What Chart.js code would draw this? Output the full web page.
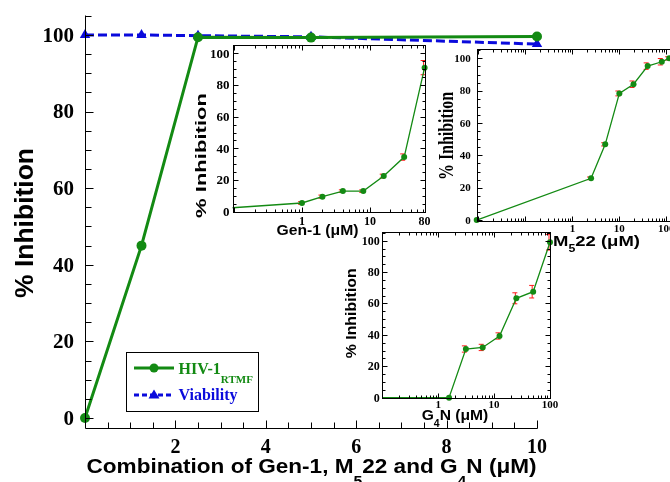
<!DOCTYPE html>
<html><head><meta charset="utf-8">
<script src="https://cdn.jsdelivr.net/npm/chart.js@4.4.1/dist/chart.umd.min.js"></script>
<style>
html,body{margin:0;padding:0;background:#fff;width:670px;height:482px;overflow:hidden;position:relative}
canvas{position:absolute;left:0;top:0}
</style></head><body>
<canvas id="main" width="670" height="482" style="width:670px;height:482px"></canvas>
<canvas id="gen1" width="700" height="482" style="width:700px;height:482px"></canvas>
<canvas id="m522" width="700" height="482" style="width:700px;height:482px"></canvas>
<canvas id="g4n" width="700" height="482" style="width:700px;height:482px"></canvas>
<script>
// ---------- data ----------
const mainConc = [0, 1.25, 2.5, 5, 10];
const mainHIV = [0, 45, 99.4, 99.3, 99.6];
const mainViability = [100, 100, 99.8, 99.5, 97.6];
const mainXTicks = [2, 4, 6, 8, 10];
const mainXTickLabels = ['2', '4', '6', '8', '10'];
const mainYTicks = [0, 20, 40, 60, 80, 100];
const mainYTickLabels = ['0', '20', '40', '60', '80', '100'];

const insetYTicks = [0, 20, 40, 60, 80, 100];
const insetYTickLabels = ['0', '20', '40', '60', '80', '100'];

const gen1Conc = [0.095, 1, 2, 4, 8, 16, 32, 64];
const gen1Inh = [2.5, 5.5, 9.5, 13, 13, 22.5, 34.5, 91];
const gen1Err = [0, 0.8, 1, 0.8, 0.8, 1.2, 2, 4.5];
const gen1TickValues = [1, 10, 64];
const gen1TickLabels = ['1', '10', '80'];

const m522Conc = [0.0092, 2.5, 5, 10, 20, 40, 80, 115];
const m522Inh = [0, 25.8, 46.8, 78.3, 84, 95.2, 97.9, 100];
const m522Err = [0, 0.8, 1, 1.5, 2, 2, 2, 1];
const m522TickValues = [1, 10, 100];
const m522TickLabels = ['1', '10', '100'];

const g4nConc = [0.1, 1.5625, 3.125, 6.25, 12.5, 25, 50, 100];
const g4nInh = [0, 0, 31, 32, 39.3, 63.3, 67.5, 99];
const g4nErr = [0, 0, 2, 2, 2, 3.5, 4, 5];
const g4nTickValues = [1, 10, 100];
const g4nTickLabels = ['1', '10', '100'];

// ---------- styles ----------
const GREEN = '#138a13', BLUE = '#0a0adc', RED = '#ff1a1a';
const SANS = '"Liberation Sans", Arial, sans-serif';
const SERIF = '"Liberation Serif", "Times New Roman", serif';

function drawText(ctx, parts, x, y, o) {
  ctx.save();
  const fontOf = p => `bold ${p.sub ? o.subSize : o.size}px ${o.family}`;
  let nat = 0;
  const ws = parts.map(p => { ctx.font = fontOf(p); const w = ctx.measureText(p.t).width; nat += w; return w; });
  const sx = o.width ? o.width / nat : 1;
  ctx.translate(x, y);
  if (o.rotate) ctx.rotate(-Math.PI / 2);
  ctx.scale(sx, 1);
  ctx.fillStyle = o.color || '#000';
  ctx.textBaseline = 'alphabetic';
  ctx.textAlign = 'left';
  let cx = o.align === 'left' ? 0 : (o.align === 'right' ? -nat : -nat / 2);
  parts.forEach((p, i) => { ctx.font = fontOf(p); ctx.fillText(p.t, cx, p.sub ? o.subShift : 0); cx += ws[i]; });
  ctx.restore();
}

function linVals(min, max, step) {
  const out = [];
  for (let v = Math.ceil(min / step - 1e-9) * step; v <= max + 1e-9; v += step) out.push(+v.toFixed(6));
  return out;
}
function logVals(min, max) {
  const out = [];
  for (let e = Math.floor(Math.log10(min)); e <= Math.ceil(Math.log10(max)); e++)
    for (let m = 1; m <= 9; m++) {
      const v = m * Math.pow(10, e);
      if (v >= min * 1.0001 && v <= max * 0.9999) out.push({ v, major: m === 1 });
    }
  return out;
}
function seg(ctx, x1, y1, x2, y2) { ctx.beginPath(); ctx.moveTo(x1, y1); ctx.lineTo(x2, y2); ctx.stroke(); }
const px = v => Math.round(v) + 0.5;

const decor = {
  id: 'decor',
  beforeDatasetsDraw(chart) {
    const { ctx, scales: { x, y } } = chart;
    chart.data.datasets.forEach(ds => {
      if (!ds.errors) return;
      ctx.save(); ctx.strokeStyle = RED; ctx.lineWidth = 1;
      ds.data.forEach((pt, i) => {
        const e = ds.errors[i]; if (!e) return;
        const xp = x.getPixelForValue(pt.x) - 1;
        const y1 = y.getPixelForValue(pt.y - e), y2 = y.getPixelForValue(pt.y + e);
        seg(ctx, xp, y1, xp, y2);
        seg(ctx, xp - 3, y1, xp + 2, y1);
        seg(ctx, xp - 3, y2, xp + 2, y2);
      });
      ctx.restore();
    });
  },
  afterDraw(chart, args, o) {
    const { ctx, chartArea: a, scales: { x, y } } = chart;
    ctx.save();
    ctx.strokeStyle = '#000'; ctx.lineWidth = 1;
    const L = px(a.left), R = px(a.right), T = px(a.top), B = px(a.bottom);
    if (o.box) { ctx.strokeRect(L, T, R - L, B - T); }
    else { seg(ctx, L, T, L, B); seg(ctx, L, B, R, B); }
    // y ticks
    linVals(y.min, y.max, o.yMinor).forEach(v => {
      const p = px(y.getPixelForValue(v));
      if (Math.abs(p - B) < 1) return;
      const major = Math.abs(v / o.yMajor - Math.round(v / o.yMajor)) < 1e-6;
      const len = major ? o.majLen : o.minLen;
      seg(ctx, L, p, L + len, p);
      if (o.box) seg(ctx, R, p, R - len, p);
    });
    // x ticks
    const xt = o.xLog ? logVals(x.min, x.max)
      : linVals(x.min, x.max, o.xMinor).map(v => ({ v, major: Math.abs(v / o.xMajor - Math.round(v / o.xMajor)) < 1e-6 }));
    xt.forEach(t => {
      const p = px(x.getPixelForValue(t.v));
      if (Math.abs(p - L) < 1) return;
      const len = t.major ? o.majLen : o.minLen;
      seg(ctx, p, B, p, B - len);
      if (o.box) seg(ctx, p, T, p, T + len);
    });
    ctx.restore();
    // tick labels
    ctx.save();
    ctx.fillStyle = '#000';
    ctx.font = `bold ${o.yFont}px ${SERIF}`;
    ctx.textAlign = 'right'; ctx.textBaseline = 'alphabetic';
    o.yTicks.forEach((v, i) => ctx.fillText(o.yLabels[i], a.left - o.yPad, y.getPixelForValue(v) + o.yFont * 0.33));
    ctx.font = `bold ${o.xFont}px ${SERIF}`;
    ctx.textAlign = 'center';
    o.xTicks.forEach((v, i) => ctx.fillText(o.xLabels[i], x.getPixelForValue(v), a.bottom + o.xBase));
    ctx.restore();
    (o.titles || []).forEach(t => drawText(ctx, t.parts, t.x, t.y, t));
    if (o.legend) drawLegend(ctx);
  }
};

function drawLegend(ctx) {
  ctx.save();
  ctx.strokeStyle = '#000'; ctx.lineWidth = 1;
  ctx.strokeRect(126.5, 352.5, 132, 59);
  ctx.strokeStyle = GREEN; ctx.lineWidth = 3;
  seg(ctx, 134, 368, 174, 368);
  ctx.fillStyle = GREEN; ctx.beginPath(); ctx.arc(154, 368, 4.5, 0, Math.PI * 2); ctx.fill();
  ctx.strokeStyle = BLUE; ctx.setLineDash([5, 3]);
  seg(ctx, 134, 395, 174, 395);
  ctx.setLineDash([]);
  ctx.fillStyle = BLUE; ctx.beginPath(); ctx.moveTo(154, 389.5); ctx.lineTo(159.5, 398.5); ctx.lineTo(148.5, 398.5); ctx.closePath(); ctx.fill();
  ctx.restore();
  drawText(ctx, [{ t: 'HIV-1' }, { t: 'RTMF', sub: true }], 178.5, 373.5,
    { size: 16, subSize: 11, subShift: 9, family: SERIF, color: GREEN, align: 'left' });
  drawText(ctx, [{ t: 'Viability' }], 178.5, 400,
    { size: 16, family: SERIF, color: BLUE, align: 'left' });
}

const hiddenScale = (type, min, max) => ({ type, min, max, display: false });

// ---------- main chart ----------
new Chart(document.getElementById('main'), {
  type: 'line',
  data: {
    datasets: [
      { label: 'HIV-1 RTMF', data: mainConc.map((c, i) => ({ x: c, y: mainHIV[i] })),
        borderColor: GREEN, backgroundColor: GREEN, borderWidth: 3, pointRadius: 5, pointBorderWidth: 0, clip: false },
      { label: 'Viability', data: mainConc.map((c, i) => ({ x: c, y: mainViability[i] })),
        borderColor: BLUE, backgroundColor: BLUE, borderWidth: 3, borderDash: [9, 4], pointStyle: 'triangle',
        pointRadius: 6, pointBorderWidth: 0, clip: false }
    ]
  },
  options: {
    responsive: false, animation: false, devicePixelRatio: 1,
    layout: { padding: { left: 85, top: 15, right: 133, bottom: 54 } },
    plugins: {
      legend: { display: false }, tooltip: { enabled: false },
      decor: {
        box: false, yMinor: 5, yMajor: 20, xMinor: 0.5, xMajor: 2, majLen: 8, minLen: 6,
        yTicks: mainYTicks, yLabels: mainYTickLabels, yFont: 21, yPad: 11,
        xTicks: mainXTicks, xLabels: mainXTickLabels, xFont: 20, xBase: 24.5,
        legend: true,
        titles: [
          { parts: [{ t: '% Inhibition' }], x: 33, y: 223, rotate: true, size: 25, family: SANS, width: 150 },
          { parts: [{ t: 'Combination of Gen-1, M' }, { t: '5', sub: true }, { t: '22 and G' }, { t: '4', sub: true }, { t: 'N (μM)' }],
            x: 86.5, y: 473, align: 'left', size: 20, subSize: 14, subShift: 13, family: SANS, width: 450 }
        ]
      }
    },
    scales: { x: hiddenScale('linear', 0, 10), y: hiddenScale('linear', -2.6, 105.2) }
  },
  plugins: [decor]
});

// ---------- insets ----------
function makeInset(id, d) {
  const CW = 700, CH = 482;
  return new Chart(document.getElementById(id), {
    type: 'line',
    data: {
      datasets: [{
        data: d.conc.map((c, i) => ({ x: c, y: d.inh[i] })), errors: d.err,
        borderColor: GREEN, backgroundColor: GREEN, borderWidth: 1.3,
        pointRadius: d.conc.map((c, i) => (i === 0 && !d.firstMarker) ? 0 : 3), pointBorderWidth: 0, clip: false
      }]
    },
    options: {
      responsive: false, animation: false, devicePixelRatio: 1,
      layout: { padding: { left: d.box.l, top: d.box.t, right: CW - d.box.r, bottom: CH - d.box.b } },
      plugins: {
        legend: { display: false }, tooltip: { enabled: false },
        decor: {
          box: true, xLog: true, yMinor: 5, yMajor: 20, majLen: 5, minLen: 3, titles: d.titles,
          yTicks: insetYTicks, yLabels: insetYTickLabels, yFont: d.yFont, yPad: d.yPad,
          xTicks: d.tickValues, xLabels: d.tickLabels, xFont: d.xFont, xBase: d.xBase
        }
      },
      scales: { x: hiddenScale('logarithmic', d.xmin, d.xmax), y: hiddenScale('linear', d.ymin, d.ymax) }
    },
    plugins: [decor]
  });
}

makeInset('gen1', {
  conc: gen1Conc, inh: gen1Inh, err: gen1Err, tickValues: gen1TickValues, tickLabels: gen1TickLabels,
  box: { l: 232.6, t: 45, r: 424.6, b: 211.7 }, xmin: 0.095, xmax: 64, ymin: 0, ymax: 105.3,
  xFont: 12, yFont: 13, xBase: 13.5, yPad: 3,
  titles: [
    { parts: [{ t: '% Inhibition' }], x: 205.5, y: 155.5, rotate: true, size: 15, family: SANS, width: 125 },
    { parts: [{ t: 'Gen-1 (μM)' }], x: 317.5, y: 235, size: 15, family: SANS, width: 82 }
  ]
});

makeInset('m522', {
  conc: m522Conc, inh: m522Inh, err: m522Err, tickValues: m522TickValues, tickLabels: m522TickLabels, firstMarker: true,
  box: { l: 476.7, t: 49.3, r: 680.5, b: 221 }, xmin: 0.0092, xmax: 200, ymin: -0.6, ymax: 105.6,
  xFont: 11, yFont: 11, xBase: 10.5, yPad: 6,
  titles: [
    { parts: [{ t: '% Inhibition' }], x: 452.5, y: 136, rotate: true, size: 20, family: SERIF, width: 88 },
    { parts: [{ t: 'M' }, { t: '5', sub: true }, { t: '22 (μM)' }], x: 553, y: 246, align: 'left', size: 15, subSize: 10, subShift: 6, family: SANS, width: 87 }
  ]
});

makeInset('g4n', {
  conc: g4nConc, inh: g4nInh, err: g4nErr, tickValues: g4nTickValues, tickLabels: g4nTickLabels,
  box: { l: 382.3, t: 231.7, r: 550, b: 397.7 }, xmin: 0.1, xmax: 100, ymin: 0, ymax: 105.7,
  xFont: 11, yFont: 12, xBase: 9.8, yPad: 2.5,
  titles: [
    { parts: [{ t: '% Inhibition' }], x: 356, y: 313.3, rotate: true, size: 15, family: SANS, width: 90 },
    { parts: [{ t: 'G' }, { t: '4', sub: true }, { t: 'N (μM)' }], x: 421.7, y: 420, align: 'left', size: 15, subSize: 10, subShift: 7, family: SANS, width: 66.6 }
  ]
});
</script></body></html>
